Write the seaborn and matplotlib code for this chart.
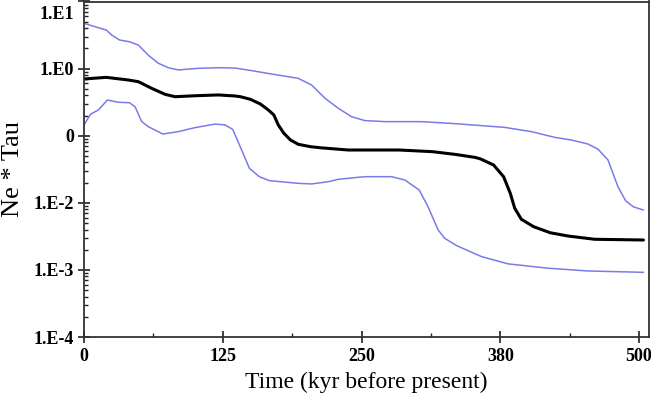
import numpy as np
import pandas as pd
import matplotlib
matplotlib.use("Agg")
import matplotlib.pyplot as plt
import matplotlib.ticker as mticker
import matplotlib.transforms as mtransforms
import seaborn as sns

# ---- data ----
upper_x = [0, 10, 20, 25, 32, 41, 49, 58, 67, 76, 85, 103, 121, 136, 151, 167,
           193, 205, 217, 229, 241, 253, 271, 304, 335, 379, 403, 424, 439, 454,
           463, 472, 481, 488, 495, 504]
upper_y = [4.73, 4.21, 3.76, 3.16, 2.67, 2.51, 2.24, 1.58, 1.20, 1.03, 0.955, 1.01,
           1.03, 1.02, 0.933, 0.841, 0.716, 0.570, 0.363, 0.257, 0.192, 0.168,
           0.162, 0.162, 0.151, 0.133, 0.115, 0.0946, 0.0863, 0.0752, 0.0631,
           0.0437, 0.0174, 0.0107, 0.0087, 0.0078]

median_x = [0, 20, 40, 49, 61, 73, 82, 100, 121, 136, 141, 150, 159, 166, 171, 175,
            180, 186, 193, 204, 213, 238, 284, 314, 335, 352, 357, 369, 378, 384,
            388, 394, 405, 420, 436, 460, 504]
median_y = [0.700, 0.741, 0.676, 0.638, 0.508, 0.414, 0.381, 0.394, 0.405, 0.391,
            0.381, 0.348, 0.296, 0.242, 0.204, 0.145, 0.109, 0.0863, 0.0745,
            0.0686, 0.0661, 0.0612, 0.0612, 0.0578, 0.0525, 0.0476, 0.0452,
            0.0366, 0.0245, 0.0139, 0.00832, 0.00568, 0.00441, 0.00358, 0.0032,
            0.00286, 0.00279]

lower_x = [0, 6, 13, 21, 31, 41, 46, 52, 58, 71, 85, 100, 118, 127, 134, 142, 149,
           158, 167, 193, 205, 220, 229, 253, 277, 289, 302, 310, 319, 325, 336,
           358, 382, 418, 454, 504]
lower_y = [0.145, 0.210, 0.242, 0.340, 0.315, 0.310, 0.270, 0.162, 0.136, 0.106,
           0.115, 0.132, 0.149, 0.145, 0.124, 0.0612, 0.0327, 0.0245, 0.0214,
           0.0195, 0.0191, 0.0206, 0.0224, 0.0245, 0.0245, 0.0219, 0.0155, 0.0087,
           0.00394, 0.00295, 0.00229, 0.00158, 0.00123, 0.00106, 0.000964, 0.000920]

x_ticks = [0, 125, 250, 375, 500]
x_tick_labels = ["0", "125", "250", "380", "500"]
y_ticks = [1e1, 1e0, 1e-1, 1e-2, 1e-3, 1e-4]
y_tick_labels = ["1.E1", "1.E0", "0", "1.E-2", "1.E-3", "1.E-4"]

# ---- style ----
sns.set_style("ticks")
plt.rcParams["font.family"] = ["Liberation Serif", "DejaVu Serif"]

fig = plt.figure(figsize=(6.51, 4.0), dpi=100)
ax = fig.add_axes([84 / 651, 1 - 337 / 400, (649 - 84) / 651, (337 - 1.5) / 400])

blue = "#7b7be8"
df_u = pd.DataFrame({"t": upper_x, "v": upper_y})
df_m = pd.DataFrame({"t": median_x, "v": median_y})
df_l = pd.DataFrame({"t": lower_x, "v": lower_y})
sns.lineplot(data=df_u, x="t", y="v", ax=ax, color=blue, lw=1.1, sort=False,
             solid_joinstyle="round")
sns.lineplot(data=df_l, x="t", y="v", ax=ax, color=blue, lw=1.1, sort=False,
             solid_joinstyle="round")
sns.lineplot(data=df_m, x="t", y="v", ax=ax, color="black", lw=2.2, sort=False,
             solid_joinstyle="round")

ax.set_yscale("log")
ax.set_ylim(1e-4, 1e1)
ax.set_xlim(0, 509)

ax.set_xticks(x_ticks)
ax.set_xticklabels(x_tick_labels)
ax.xaxis.set_minor_locator(mticker.FixedLocator([62.5, 187.5, 312.5, 437.5]))
ax.set_yticks(y_ticks)
ax.set_yticklabels(y_tick_labels)
ax.yaxis.set_minor_locator(mticker.LogLocator(base=10, subs=np.arange(2, 10)))
ax.yaxis.set_minor_formatter(mticker.NullFormatter())

ax.tick_params(axis="both", which="major", direction="inout", length=8, width=1.2,
               colors="#222222", labelsize=13)
ax.tick_params(axis="x", which="major", pad=4)
ax.tick_params(axis="y", which="major", pad=3)
ax.tick_params(axis="both", which="minor", direction="in", length=3, width=1.0,
               colors="#222222")
for lab in ax.get_xticklabels() + ax.get_yticklabels():
    lab.set_fontweight("bold")
    lab.set_color("black")

# top y label sits below the tick in the reference
top_lab = ax.get_yticklabels()[0]
top_lab.set_transform(top_lab.get_transform() +
                      mtransforms.ScaledTranslation(0, -11 / 100, fig.dpi_scale_trans))

for s in ax.spines.values():
    s.set_visible(True)
    s.set_linewidth(1.3)
    s.set_color("#333333")

ax.set_xlabel("Time (kyr before present)", fontsize=17, labelpad=5, color="black")
ax.set_ylabel("Ne * Tau", fontsize=19, labelpad=7, color="black")

fig.savefig("out.png", dpi=100, facecolor="white")
